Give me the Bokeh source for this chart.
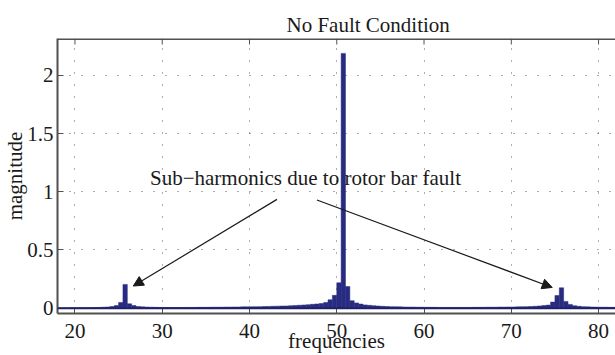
from bokeh.plotting import figure
from bokeh.models import (Range1d, FixedTicker, Span, Label, Arrow,
                          NormalHead, NumeralTickFormatter, ColumnDataSource, Title)
from bokeh.embed import file_html
from bokeh.resources import INLINE

# ---------------- data ----------------
freq = [18.25 + 0.5 * i for i in range(128)]  # bin centres, 0.5 Hz bins from 18 to 82 Hz
magnitude = [
    0.002, 0.002, 0.002, 0.003,   # 18-20
    0.003, 0.003, 0.004, 0.004,   # 20-22
    0.005, 0.006, 0.008, 0.010,   # 22-24
    0.014, 0.022, 0.049, 0.204,   # 24-26
    0.037, 0.022, 0.014, 0.011,   # 26-28
    0.009, 0.008, 0.007, 0.006,   # 28-30
    0.006, 0.005, 0.005, 0.005,   # 30-32
    0.005, 0.006, 0.006, 0.006,   # 32-34
    0.007, 0.007, 0.007, 0.008,   # 34-36
    0.008, 0.008, 0.009, 0.009,   # 36-38
    0.010, 0.010, 0.011, 0.011,   # 38-40
    0.012, 0.012, 0.013, 0.014,   # 40-42
    0.015, 0.016, 0.017, 0.018,   # 42-44
    0.019, 0.021, 0.023, 0.025,   # 44-46
    0.027, 0.030, 0.033, 0.036,   # 46-48
    0.040, 0.049, 0.072, 0.110,   # 48-50
    0.218, 2.190, 0.186, 0.064,   # 50-52
    0.045, 0.035, 0.028, 0.024,   # 52-54
    0.021, 0.018, 0.016, 0.014,   # 54-56
    0.013, 0.012, 0.011, 0.010,   # 56-58
    0.009, 0.009, 0.008, 0.008,   # 58-60
    0.007, 0.007, 0.007, 0.006,   # 60-62
    0.006, 0.006, 0.006, 0.006,   # 62-64
    0.006, 0.006, 0.006, 0.007,   # 64-66
    0.007, 0.007, 0.008, 0.008,   # 66-68
    0.008, 0.009, 0.009, 0.010,   # 68-70
    0.010, 0.011, 0.012, 0.013,   # 70-72
    0.014, 0.016, 0.019, 0.022,   # 72-74
    0.026, 0.052, 0.109, 0.175,   # 74-76
    0.058, 0.032, 0.021, 0.016,   # 76-78
    0.013, 0.011, 0.010, 0.009,   # 78-80
    0.008, 0.008, 0.007, 0.007,   # 80-82
]
x_ticks = [20, 30, 40, 50, 60, 70, 80]
y_ticks = [0, 0.5, 1, 1.5, 2]

title_text = "No Fault Condition"
x_label = "frequencies"
y_label = "magnitude"
note_text = "Sub\u2212harmonics due to rotor bar fault"
note_pos = (28.6, 1.12)
arrow_left = ((43.15, 0.935), (26.68, 0.19))
arrow_right = ((47.73, 0.93), (74.69, 0.178))

X0, X1 = 18, 81.94
Y0, Y1 = -0.046, 2.318

# ---------------- figure ----------------
FONT = "Liberation Serif"
BAR = "#282c80"
AX = "#505050"
TXT = "#1a1a1a"

p = figure(width=615, height=355, output_backend="svg", toolbar_location=None,
           x_range=Range1d(X0, X1), y_range=Range1d(Y0, Y1),
           min_border_left=57, min_border_right=0, min_border_top=38,
           min_border_bottom=42, x_axis_label=x_label, y_axis_label=y_label)
p.outline_line_color = None
p.background_fill_color = "white"
p.border_fill_color = "white"

p.title = Title(text=title_text, align="left", offset=229, standoff=4,
                text_font=FONT, text_font_size="21px", text_font_style="normal",
                text_color=TXT)

src = ColumnDataSource(dict(freq=freq, magnitude=magnitude))
p.vbar(x="freq", top="magnitude", bottom=0, width=0.5, source=src,
       fill_color=BAR, line_color=BAR, line_width=0.5)
p.add_layout(Span(location=0, dimension="width", line_color="#1f2366", line_width=2))

for ax in (p.xaxis[0], p.yaxis[0]):
    ax.major_tick_in = 6
    ax.major_tick_out = 0
    ax.minor_tick_line_color = None
    ax.major_tick_line_color = AX
    ax.axis_line_color = AX
    ax.axis_line_width = 2
    ax.major_label_text_font = FONT
    ax.major_label_text_font_size = "21px"
    ax.major_label_text_color = TXT
    ax.axis_label_text_font = FONT
    ax.axis_label_text_font_size = "21px"
    ax.axis_label_text_font_style = "normal"
    ax.axis_label_text_color = TXT

p.xaxis.ticker = FixedTicker(ticks=x_ticks)
p.yaxis.ticker = FixedTicker(ticks=y_ticks)
p.yaxis.formatter = NumeralTickFormatter(format="0.[0]")
p.xaxis.major_label_standoff = 10
p.xaxis.axis_label_standoff = -12
p.yaxis.major_label_standoff = 4
p.yaxis.axis_label_standoff = -3

# top spine with inward ticks
p.add_layout(Span(location=Y1, dimension="width", line_color=AX, line_width=3))
tick_len = 6 * (Y1 - Y0) / 275.0
p.segment(x0=x_ticks, x1=x_ticks, y0=[Y1] * len(x_ticks),
          y1=[Y1 - tick_len] * len(x_ticks), line_color=AX, line_width=1)

for g in (p.xgrid[0], p.ygrid[0]):
    g.grid_line_color = "#333333"
    g.grid_line_dash = "1 11"
    g.grid_line_width = 1
    g.grid_line_alpha = 0.8
p.xgrid.ticker = FixedTicker(ticks=x_ticks)
p.ygrid.ticker = FixedTicker(ticks=y_ticks)

p.add_layout(Label(x=note_pos[0], y=note_pos[1], text=note_text, text_font=FONT,
                   text_font_size="21px", text_color=TXT,
                   text_baseline="alphabetic"))
for (xs, ys), (xe, ye) in (arrow_left, arrow_right):
    p.add_layout(Arrow(x_start=xs, y_start=ys, x_end=xe, y_end=ye,
                       line_color=TXT, line_width=1.2,
                       end=NormalHead(size=10, fill_color=TXT,
                                      line_color=TXT, line_width=1)))

open("out.html", "w").write(file_html(p, INLINE))
